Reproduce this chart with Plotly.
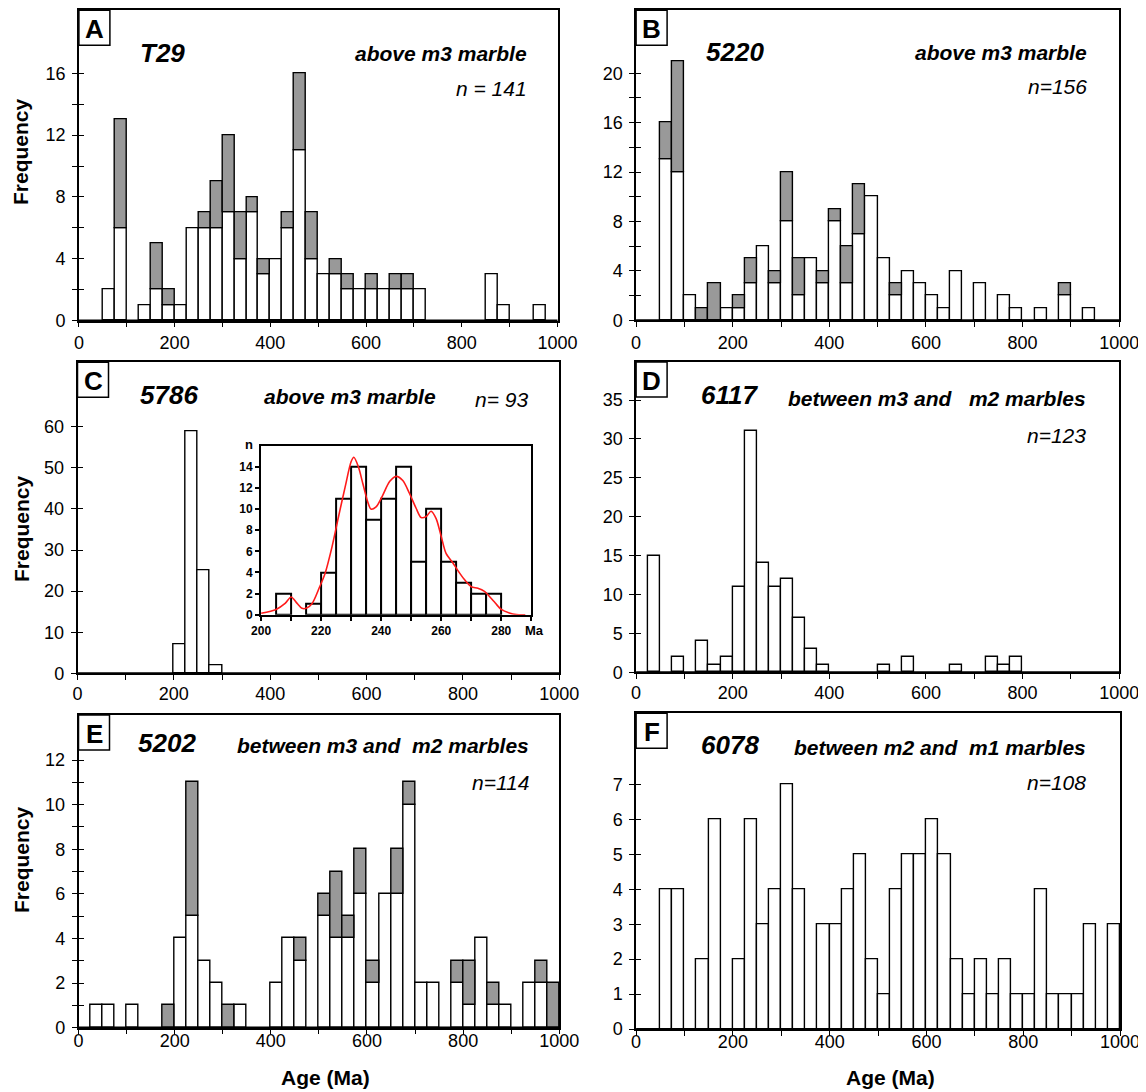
import plotly.graph_objects as go

# ---------------- data ----------------
AGE_BIN_START = list(range(0, 1000, 25))   # 40 age bins, 25 Ma wide
BIN_WIDTH = 25

# A  T29 (clear = lower white part, shaded = grey upper part)
T29_CLEAR = [0, 0, 2, 6, 0, 1, 2, 1, 1, 6, 6, 6, 7, 4, 7, 3, 4, 6, 11, 4,
             3, 3, 2, 2, 2, 2, 2, 2, 2, 0, 0, 0, 0, 0, 3, 1, 0, 0, 1, 0]
T29_SHADED = [0, 0, 0, 7, 0, 0, 3, 1, 0, 0, 1, 3, 5, 3, 1, 1, 0, 1, 5, 3,
              0, 1, 1, 0, 1, 0, 1, 1, 0, 0, 0, 0, 0, 0, 0, 0, 0, 0, 0, 0]
# B  5220
S5220_CLEAR = [0, 0, 13, 12, 2, 0, 0, 1, 1, 3, 6, 3, 8, 2, 5, 3, 8, 3, 7, 10,
               5, 2, 4, 3, 2, 1, 4, 0, 3, 0, 2, 1, 0, 1, 0, 2, 0, 1, 0, 0]
S5220_SHADED = [0, 0, 3, 9, 0, 1, 3, 0, 1, 2, 0, 1, 4, 3, 0, 1, 1, 3, 4, 0,
                0, 1, 0, 0, 0, 0, 0, 0, 0, 0, 0, 0, 0, 0, 0, 1, 0, 0, 0, 0]
# C  5786
S5786_CLEAR = [0, 0, 0, 0, 0, 0, 0, 0, 7, 59, 25, 2, 0, 0, 0, 0, 0, 0, 0, 0,
               0, 0, 0, 0, 0, 0, 0, 0, 0, 0, 0, 0, 0, 0, 0, 0, 0, 0, 0, 0]
# D  6117
S6117_CLEAR = [0, 15, 0, 2, 0, 4, 1, 2, 11, 31, 14, 11, 12, 7, 3, 1, 0, 0, 0, 0,
               1, 0, 2, 0, 0, 0, 1, 0, 0, 2, 1, 2, 0, 0, 0, 0, 0, 0, 0, 0]
# E  5202
S5202_CLEAR = [0, 1, 1, 0, 1, 0, 0, 0, 4, 5, 3, 2, 0, 1, 0, 0, 2, 4, 3, 0,
               5, 4, 4, 6, 2, 6, 6, 10, 2, 2, 0, 2, 1, 4, 1, 1, 0, 2, 2, 0]
S5202_SHADED = [0, 0, 0, 0, 0, 0, 0, 1, 0, 6, 0, 0, 1, 0, 0, 0, 0, 0, 1, 0,
                1, 3, 1, 2, 1, 0, 2, 1, 0, 0, 0, 1, 2, 0, 1, 0, 0, 0, 1, 2]
# F  6078
S6078_CLEAR = [0, 0, 4, 4, 0, 2, 6, 0, 2, 6, 3, 4, 7, 4, 0, 3, 3, 4, 5, 2,
               1, 4, 5, 5, 6, 5, 2, 1, 2, 1, 2, 1, 1, 4, 1, 1, 1, 3, 0, 3]

# inset of C (5 Ma bins) and its probability curve
INSET_BIN_START = [205, 210, 215, 220, 225, 230, 235, 240, 245, 250, 255, 260, 265, 270, 275]
INSET_COUNTS = [2, 0, 1, 4, 11, 14, 9, 11, 14, 5, 10, 5, 3, 2, 2]
INSET_BIN_WIDTH = 5
KDE_AGE = [200, 205, 208, 210, 212, 213.6, 215, 217, 219.3, 221.3, 223.6, 225.8, 228, 230,
           230.9, 232.4, 233.9, 235.5, 236.6, 238.3, 240.5, 242.8, 245, 247.2, 249.4,
           251.6, 253.3, 255, 256.6, 258.3, 260, 261.6, 263.9, 265.5, 267.8, 270,
           272.2, 274.4, 276.6, 278, 280, 282.7, 285, 288]
KDE_N = [0.13, 0.5, 1.07, 1.67, 1.07, 0.6, 0.6, 1.07, 2.5, 3.9, 6.4, 9.3, 12.1, 14.5,
         14.9, 14.0, 12.4, 10.7, 10.0, 10.2, 11.3, 12.6, 13.1, 12.7, 11.5,
         10.1, 9.2, 9.3, 9.8, 9.1, 7.4, 5.8, 4.9, 4.2, 3.3, 2.65,
         2.5, 2.2, 1.55, 1.1, 0.5, 0.16, 0.02, 0.0]

X_TICKS = list(range(0, 1001, 100))
X_LABELS = [str(v) if v % 200 == 0 else "" for v in X_TICKS]

# ---------------- styling / layout ----------------
PAGE_W, PAGE_H = 1146, 1092
BODY = 8                      # default page margin before the figure
W, H = PAGE_W - BODY, PAGE_H - BODY
FONT = "Liberation Sans, Arial, Helvetica, sans-serif"
GREY = "#999999"


def fx(p):
    return (p - BODY) / W


def fy(p):
    return 1 - (p - BODY) / H


def nz(vals):
    return [v if v else None for v in vals]


panels = [
    dict(letter="A", sample="T29", loc="above m3 marble", n="n = 141",
         clear=T29_CLEAR, shaded=T29_SHADED,
         frame=(78.9, 557.5, 10.3, 320.7), ymax=20.07,
         yt=list(range(0, 17, 2)), ylab=lambda v: str(v) if v % 4 == 0 else "",
         standoff=0, sample_x=138, loc_x=529, loc_y=53, n_y=88, title_y=53,
         freq_y=152),
    dict(letter="B", sample="5220", loc="above m3 marble", n="n=156",
         clear=S5220_CLEAR, shaded=S5220_SHADED,
         frame=(636.1, 1119.2, 10.3, 320.3), ymax=25.09,
         yt=list(range(0, 21, 2)), ylab=lambda v: str(v) if v % 4 == 0 else "",
         standoff=0, sample_x=704, loc_x=1089, loc_y=52, n_y=87, title_y=52),
    dict(letter="C", sample="5786", loc=None, n=None,
         clear=S5786_CLEAR, shaded=None,
         frame=(77.5, 559.3, 362.3, 673.3), ymax=75.7,
         yt=list(range(0, 61, 10)), ylab=lambda v: str(v),
         standoff=-2, sample_x=138, title_y=395, freq_y=529),
    dict(letter="D", sample="6117", loc="between m3 and\u00a0\u00a0\u00a0m2 marbles", n="n=123",
         clear=S6117_CLEAR, shaded=None,
         frame=(636.1, 1119.2, 362.0, 672.3), ymax=39.9,
         yt=list(range(0, 36, 5)), ylab=lambda v: str(v),
         standoff=-2, sample_x=699, loc_x=1088, loc_y=398, n_y=435, title_y=395),
    dict(letter="E", sample="5202", loc="between m3 and\u00a0\u00a0m2 marbles", n="n=114",
         clear=S5202_CLEAR, shaded=S5202_SHADED,
         frame=(78.5, 559.3, 715.0, 1027.7), ymax=14.02,
         yt=list(range(0, 13, 1)), ylab=lambda v: str(v) if v % 2 == 0 else "",
         standoff=-9, sample_x=136, loc_x=531, loc_y=745, n_y=782, title_y=743,
         freq_y=860, age_x=325),
    dict(letter="F", sample="6078", loc="between m2 and\u00a0\u00a0m1 marbles", n="n=108",
         clear=S6078_CLEAR, shaded=None,
         frame=(636.1, 1120.0, 713.3, 1029.0), ymax=9.04,
         yt=list(range(0, 8, 1)), ylab=lambda v: str(v),
         standoff=-9, sample_x=699, loc_x=1088, loc_y=747, n_y=782, title_y=745,
         age_x=890),
]

fig = go.Figure()
layout = {}
annotations = []
shapes = []
centres = [b + BIN_WIDTH / 2 for b in AGE_BIN_START]

for i, p in enumerate(panels, start=1):
    sfx = "" if i == 1 else str(i)
    x0, x1, yt_, yb_ = p["frame"]
    fig.add_trace(go.Bar(x=centres, y=nz(p["clear"]), width=BIN_WIDTH,
                         marker=dict(color="white", line=dict(color="black", width=1.4)),
                         xaxis="x" + sfx, yaxis="y" + sfx, showlegend=False))
    if p["shaded"] is not None:
        fig.add_trace(go.Bar(x=centres, y=nz(p["shaded"]), width=BIN_WIDTH,
                             base=p["clear"],
                             marker=dict(color=GREY, line=dict(color="black", width=1.4)),
                             xaxis="x" + sfx, yaxis="y" + sfx, showlegend=False))
    layout["xaxis" + sfx] = dict(
        domain=[fx(x0), fx(x1)], anchor="y" + sfx, range=[0, 1000],
        tickmode="array", tickvals=X_TICKS, ticktext=X_LABELS,
        ticks="outside", ticklen=5, tickwidth=1.3, tickcolor="black",
        showline=True, linecolor="black", linewidth=1.5, mirror=True,
        showgrid=False, zeroline=False, ticklabelstandoff=p["standoff"],
        automargin=False, ticklabeloverflow="allow",
        tickfont=dict(family=FONT, size=18, color="black"))
    layout["yaxis" + sfx] = dict(
        domain=[fy(yb_), fy(yt_)], anchor="x" + sfx, range=[0, p["ymax"]],
        tickmode="array", tickvals=p["yt"], ticktext=[p["ylab"](v) for v in p["yt"]],
        ticks="outside", ticklen=5, tickwidth=1.3, tickcolor="black",
        showline=True, linecolor="black", linewidth=1.5, mirror=True,
        showgrid=False, zeroline=False, ticklabelstandoff=3, automargin=False,
        ticklabeloverflow="allow",
        tickfont=dict(family=FONT, size=18, color="black"))
    # inner half of the crossing y ticks
    layout["yaxis" + str(10 + i)] = dict(
        domain=[fy(yb_), fy(yt_)], anchor="x" + sfx, overlaying="y" + sfx,
        range=[0, p["ymax"]], tickmode="array", tickvals=p["yt"],
        ticks="inside", ticklen=5, tickwidth=1.3, tickcolor="black", automargin=False,
        showticklabels=False, showline=False, showgrid=False, zeroline=False)
    fig.add_trace(go.Scatter(x=[], y=[], xaxis="x" + sfx, yaxis="y" + str(10 + i),
                             showlegend=False, hoverinfo="skip"))

    # slightly heavier baseline (x axis) as in the original
    shapes.append(dict(type="line", xref="paper", yref="paper",
                       x0=fx(x0), x1=fx(x1), y0=fy(yb_), y1=fy(yb_),
                       line=dict(color="black", width=2.2), layer="above"))
    # panel letter box
    bw, bh = 31, 35
    shapes.append(dict(type="rect", xref="paper", yref="paper",
                       x0=fx(x0), x1=fx(x0 + bw), y0=fy(yt_ + bh), y1=fy(yt_),
                       line=dict(color="black", width=1.5), fillcolor="white", layer="above"))
    annotations.append(dict(text="<b>%s</b>" % p["letter"], xref="paper", yref="paper",
                            x=fx(x0 + bw / 2), y=fy(yt_ + bh / 2 + 1), showarrow=False,
                            xanchor="center", yanchor="middle",
                            font=dict(family=FONT, size=26, color="black")))
    annotations.append(dict(text="<b><i>%s</i></b>" % p["sample"], xref="paper", yref="paper",
                            x=fx(p["sample_x"]), y=fy(p["title_y"]), showarrow=False,
                            xanchor="left", yanchor="middle",
                            font=dict(family=FONT, size=26, color="black")))
    if p.get("loc"):
        annotations.append(dict(text="<b><i>%s</i></b>" % p["loc"], xref="paper", yref="paper",
                                x=fx(p["loc_x"]), y=fy(p["loc_y"]), showarrow=False,
                                xanchor="right", yanchor="middle",
                                font=dict(family=FONT, size=21, color="black")))
    if p.get("n"):
        annotations.append(dict(text="<i>%s</i>" % p["n"], xref="paper", yref="paper",
                                x=fx(p["loc_x"]), y=fy(p["n_y"]), showarrow=False,
                                xanchor="right", yanchor="middle",
                                font=dict(family=FONT, size=21, color="black")))
    if p.get("freq_y"):
        annotations.append(dict(text="<b>Frequency</b>", xref="paper", yref="paper",
                                x=fx(21), y=fy(p["freq_y"]), showarrow=False, textangle=-90,
                                xanchor="center", yanchor="middle",
                                font=dict(family=FONT, size=21, color="black")))
    if p.get("age_x"):
        annotations.append(dict(text="<b>Age (Ma)</b>", xref="paper", yref="paper",
                                x=fx(p["age_x"]), y=fy(1077), showarrow=False,
                                xanchor="center", yanchor="middle",
                                font=dict(family=FONT, size=21, color="black")))

# C header texts (separate positions)
annotations.append(dict(text="<b><i>above m3 marble</i></b>", xref="paper", yref="paper",
                        x=fx(262), y=fy(396), showarrow=False, xanchor="left", yanchor="middle",
                        font=dict(family=FONT, size=21, color="black")))
annotations.append(dict(text="<i>n= 93</i>", xref="paper", yref="paper",
                        x=fx(530), y=fy(399), showarrow=False, xanchor="right", yanchor="middle",
                        font=dict(family=FONT, size=21, color="black")))

# ---------------- inset ----------------
ix0, ix1, iyt, iyb = 261.1, 531.3, 445.7, 614.7
inset_centres = [b + INSET_BIN_WIDTH / 2 for b in INSET_BIN_START]
fig.add_trace(go.Bar(x=inset_centres, y=nz(INSET_COUNTS), width=INSET_BIN_WIDTH,
                     marker=dict(color="white", line=dict(color="black", width=2)),
                     xaxis="x7", yaxis="y7", showlegend=False))
fig.add_trace(go.Scatter(x=KDE_AGE, y=KDE_N, mode="lines",
                         line=dict(color="#ff1a1a", width=1.6, shape="spline", smoothing=0.8),
                         xaxis="x7", yaxis="y7", showlegend=False))
inset_xt = list(range(200, 291, 10))
layout["xaxis7"] = dict(domain=[fx(ix0), fx(ix1)], anchor="y7", range=[200, 290],
                        tickmode="array", tickvals=inset_xt,
                        ticktext=["<b>%d</b>" % v if v % 20 == 0 and v < 290 else "" for v in inset_xt],
                        ticks="outside", ticklen=4, tickwidth=1.5, tickcolor="black",
                        showline=True, linecolor="black", linewidth=2, mirror=True,
                        showgrid=False, zeroline=False, automargin=False,
                        tickfont=dict(family=FONT, size=12, color="black"))
layout["yaxis7"] = dict(domain=[fy(iyb), fy(iyt)], anchor="x7", range=[0, 16],
                        tickmode="array", tickvals=list(range(0, 15, 2)),
                        ticktext=["<b>%d</b>" % v for v in range(0, 15, 2)],
                        ticks="outside", ticklen=4, tickwidth=1.5, tickcolor="black",
                        showline=True, linecolor="black", linewidth=2, mirror=True,
                        showgrid=False, zeroline=False, automargin=False,
                        tickfont=dict(family=FONT, size=12, color="black"))
annotations.append(dict(text="<b>Ma</b>", xref="paper", yref="paper", x=fx(523), y=fy(630),
                        showarrow=False, xanchor="left", yanchor="middle",
                        font=dict(family=FONT, size=13, color="black")))
annotations.append(dict(text="<b>n</b>", xref="paper", yref="paper", x=fx(249), y=fy(444),
                        showarrow=False, xanchor="center", yanchor="middle",
                        font=dict(family=FONT, size=13, color="black")))

fig.update_layout(width=W, height=H, margin=dict(l=0, r=0, t=0, b=0, pad=0, autoexpand=False),
                  paper_bgcolor="white", plot_bgcolor="white", barmode="overlay",
                  bargap=0, showlegend=False, annotations=annotations, shapes=shapes,
                  font=dict(family=FONT, color="black"), **layout)

fig.write_html("out.html")
